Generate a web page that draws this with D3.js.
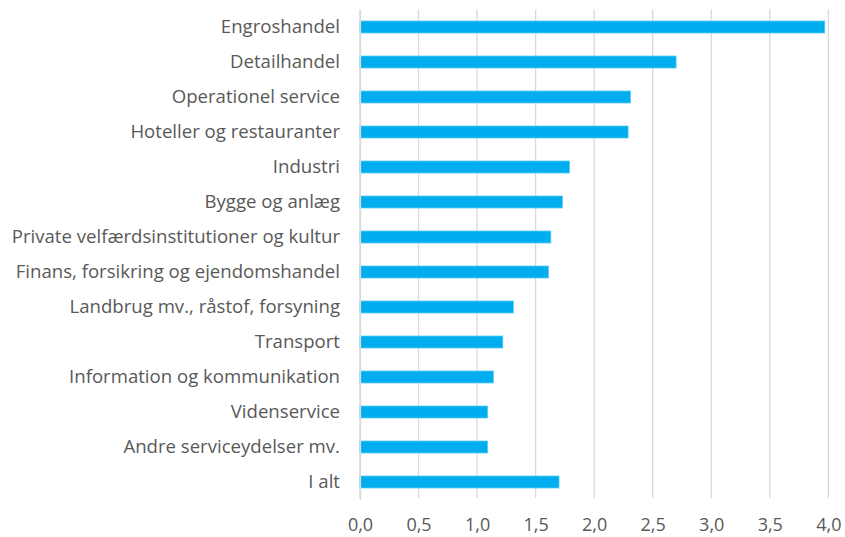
<!DOCTYPE html>
<html><head><meta charset="utf-8">
<script src="https://cdn.jsdelivr.net/npm/d3@7"></script>
<style>body{margin:0;background:#fff}text{font-family:"Open Sans",sans-serif}</style>
</head><body><svg id="c" width="845" height="537"></svg>
<script>
const categories = ["Engroshandel","Detailhandel","Operationel service","Hoteller og restauranter","Industri","Bygge og anlæg","Private velfærdsinstitutioner og kultur","Finans, forsikring og ejendomshandel","Landbrug mv., råstof, forsyning","Transport","Information og kommunikation","Videnservice","Andre serviceydelser mv.","I alt"];
const values = [3.97,2.70,2.31,2.29,1.79,1.73,1.63,1.61,1.31,1.22,1.14,1.09,1.09,1.70];
const xTicks = [0,0.5,1,1.5,2,2.5,3,3.5,4];

const svg = d3.select("#c");
const mLeft = 360, mRight = 828.3, mTop = 9.5, mBottom = 499.5;
const x = d3.scaleLinear().domain([0,4]).range([mLeft,mRight]);
const y = d3.scaleBand().domain(categories).range([mTop,mBottom]).paddingInner(0.657).paddingOuter(0.3285);

const fmt = d => d3.format(".1f")(d).replace(".",",");

svg.append("g").selectAll("line").data(xTicks).join("line")
  .attr("x1",d=>x(d)).attr("x2",d=>x(d)).attr("y1",mTop).attr("y2",mBottom-1.5)
  .attr("stroke","#d9d9d9").attr("stroke-width",1.3);

svg.append("g").selectAll("rect").data(values).join("rect")
  .attr("x",x(0)).attr("y",(d,i)=>y(categories[i]))
  .attr("width",d=>x(d)-x(0)).attr("height",y.bandwidth())
  .attr("fill","#00adef").attr("stroke","#5fcdf5").attr("stroke-width",0.8);

const xAxis = svg.append("g").attr("transform",`translate(0,${mBottom})`)
  .call(d3.axisBottom(x).tickValues(xTicks).tickFormat(fmt).tickSize(0).tickPadding(19));
xAxis.select(".domain").remove();
xAxis.selectAll("text").attr("fill","#595959").style("font-size","18px");

const yAxis = svg.append("g").attr("transform",`translate(${mLeft},0)`)
  .call(d3.axisLeft(y).tickSize(0).tickPadding(20));
yAxis.select(".domain").attr("stroke","#d9d9d9").attr("stroke-width",1.3);
yAxis.selectAll("text").attr("fill","#595959").style("font-size","18.6px");
</script></body></html>
